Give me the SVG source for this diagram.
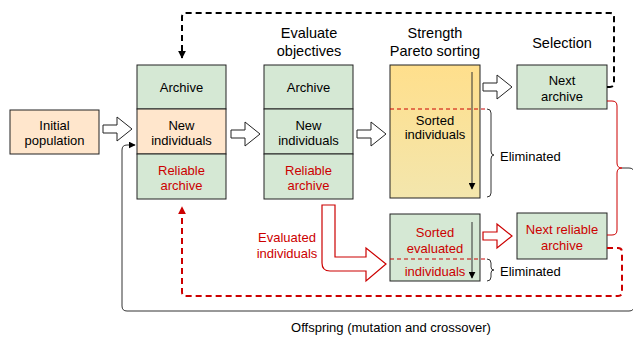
<svg xmlns="http://www.w3.org/2000/svg" width="633" height="337" viewBox="0 0 633 337">
<style>
text{font-family:"Liberation Sans",Arial,sans-serif;font-size:13px;fill:#000;text-anchor:middle;dominant-baseline:central}
.t{font-size:14.5px}
.r{fill:#cc0000}
.l{text-anchor:start}
.g{fill:#d5e8d4;stroke:#222;stroke-width:1}
.p{fill:#ffe6cc;stroke:#222;stroke-width:1}
.blk{fill:#fff;stroke:#222;stroke-width:1}
.blkr{fill:#fff;stroke:#cc0000;stroke-width:1.2}
.thin{fill:none;stroke:#333;stroke-width:1}
.dk{fill:none;stroke:#000;stroke-width:2;stroke-dasharray:6 4}
.dr{fill:none;stroke:#cc0000;stroke-width:2;stroke-dasharray:6 4}
</style>
<defs>
<linearGradient id="gy" x1="0" y1="0" x2="0" y2="1">
<stop offset="0" stop-color="#ffdf8c"/>
<stop offset="1" stop-color="#f3e6ad"/>
</linearGradient>
<path id="ba" d="M0,-4 H14 V-12 L29,0 L14,12 V4 H0 Z"/>
<marker id="ak" viewBox="0 0 10 10" refX="9" refY="5" markerWidth="4" markerHeight="4" orient="auto"><path d="M0,0 L10,5 L0,10 Z" fill="#000"/></marker>
<marker id="ar" viewBox="0 0 10 10" refX="9" refY="5" markerWidth="4" markerHeight="4" orient="auto"><path d="M0,0 L10,5 L0,10 Z" fill="#cc0000"/></marker>
<marker id="as" viewBox="0 0 10 10" refX="9" refY="5" markerWidth="7" markerHeight="7" orient="auto" markerUnits="userSpaceOnUse"><path d="M0,0 L10,5 L0,10 Z" fill="#000"/></marker>
</defs>

<g id="titles">
<text class="t" x="309" y="33">Evaluate</text>
<text class="t" x="309" y="51">objectives</text>
<text class="t" x="435" y="33">Strength</text>
<text class="t" x="435" y="51">Pareto sorting</text>
<text class="t" x="562" y="43">Selection</text>
</g>

<g id="initial">
<rect class="p" x="10" y="110" width="89" height="44"/>
<text x="54.5" y="125">Initial</text>
<text x="54.5" y="140">population</text>
</g>

<g id="col1">
<rect class="g" x="137" y="65" width="89" height="44"/>
<rect class="p" x="137" y="109" width="89" height="45"/>
<rect class="g" x="137" y="154" width="89" height="45"/>
<text x="181.5" y="87">Archive</text>
<text x="181.5" y="125">New</text>
<text x="181.5" y="140">individuals</text>
<text class="r" x="181.5" y="170">Reliable</text>
<text class="r" x="181.5" y="185">archive</text>
</g>

<g id="col2">
<rect class="g" x="264" y="65" width="89" height="44"/>
<rect class="g" x="264" y="109" width="89" height="45"/>
<rect class="g" x="264" y="154" width="89" height="45"/>
<text x="308.5" y="87">Archive</text>
<text x="308.5" y="125">New</text>
<text x="308.5" y="140">individuals</text>
<text class="r" x="308.5" y="170">Reliable</text>
<text class="r" x="308.5" y="185">archive</text>
</g>

<g id="sorted">
<rect x="390" y="65" width="90" height="133" fill="url(#gy)" stroke="#222" stroke-width="1"/>
<line x1="390" y1="109" x2="488" y2="109" stroke="#cc0000" stroke-width="1" stroke-dasharray="4 3"/>
<text x="435" y="120">Sorted</text>
<text x="435" y="134">individuals</text>
<line x1="472" y1="72" x2="472" y2="189" stroke="#333" stroke-width="1" marker-end="url(#as)"/>
<path class="thin" d="M487,109 Q491,109 491,113 V151 Q491,155 494,155 Q491,155 491,159 V193 Q491,197 487,197"/>
<text class="l" x="500" y="156">Eliminated</text>
</g>

<g id="sortedeval">
<rect class="g" x="390" y="214" width="90" height="67"/>
<line x1="390" y1="259" x2="487" y2="259" stroke="#cc0000" stroke-width="1" stroke-dasharray="4 3"/>
<text class="r" x="435" y="232">Sorted</text>
<text class="r" x="435" y="248">evaluated</text>
<text class="r" x="435" y="271">individuals</text>
<line x1="472" y1="222" x2="472" y2="278" stroke="#333" stroke-width="1" marker-end="url(#as)"/>
<path class="thin" d="M487,259 Q491,259 491,263 V267 Q491,270 494,270 Q491,270 491,273 V277 Q491,281 487,281"/>
<text class="l" x="500" y="271">Eliminated</text>
</g>

<g id="nextarchive">
<rect class="g" x="517" y="65" width="90" height="44"/>
<text x="562" y="80">Next</text>
<text x="562" y="96">archive</text>
</g>

<g id="nextreliable">
<rect class="g" x="517" y="213" width="90" height="46"/>
<text class="r" x="562" y="229">Next reliable</text>
<text class="r" x="562" y="245">archive</text>
</g>

<g id="connectors">
<use href="#ba" class="blk" x="103" y="129"/>
<use href="#ba" class="blk" x="231" y="134"/>
<use href="#ba" class="blk" x="357" y="134"/>
<use href="#ba" class="blk" x="483" y="87"/>
<use href="#ba" class="blkr" x="483" y="236"/>
<path class="blkr" d="M322,205 H335 V257 H366 V248 L386,264 L366,281 V271 H330 Q322,271 322,263 Z"/>
<text class="r" x="287" y="237">Evaluated</text>
<text class="r" x="287" y="253">individuals</text>
<path class="dk" d="M607,87 H610 Q614,87 614,83 V17 Q614,13 610,13 H186 Q182,13 182,17 V58" marker-end="url(#ak)"/>
<path class="dr" d="M607,248 H618 Q622,248 622,252 V292 Q622,296 618,296 H186 Q182,296 182,292 V207" marker-end="url(#ar)"/>
<path d="M607,101 H612 Q617,101 617,106 V163 Q617,168 622,168 Q617,168 617,173 V230 Q617,235 612,235 H607" fill="none" stroke="#cc0000" stroke-width="1"/>
<path d="M622,168 H629 Q634,168 634,173 V306 Q634,311 629,311 H127 Q122,311 122,306 V150 Q122,145 127,145 H135" fill="none" stroke="#333" stroke-width="1" marker-end="url(#as)"/>
<text x="391" y="327">Offspring (mutation and crossover)</text>
</g>
</svg>
